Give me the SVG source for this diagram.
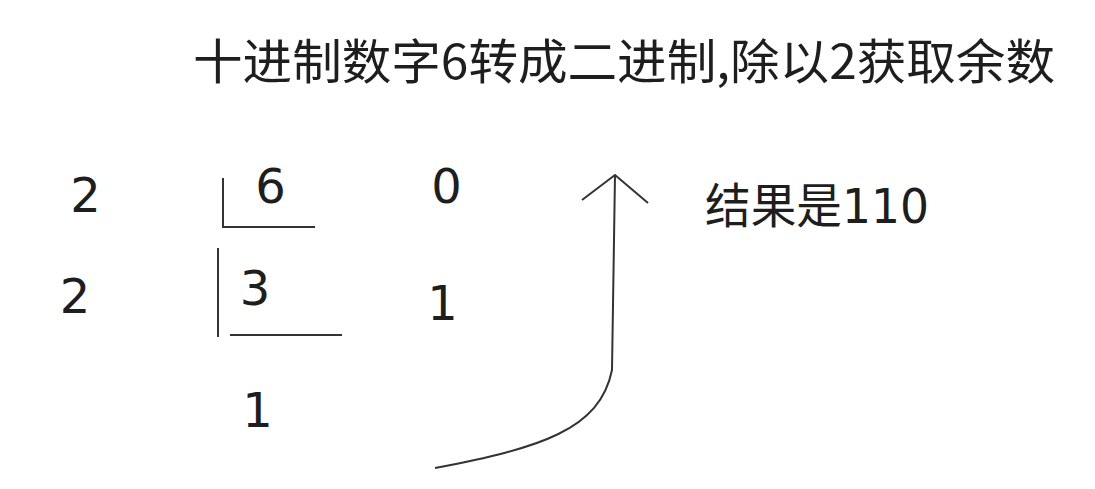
<svg xmlns="http://www.w3.org/2000/svg" width="1095" height="489" viewBox="0 0 1095 489">
<style>
.cjk{font-family:"Noto Sans CJK SC","Noto Sans",sans-serif;fill:#1e1e1e}
.d{font-family:"DejaVu Sans",sans-serif;font-size:48px;fill:#1e1e1e;text-anchor:middle}
.ln{stroke:#333;stroke-width:2;fill:none}
</style>
<rect width="1095" height="489" fill="#fff"/>
<g id="title"><text class="cjk" x="193" y="79" font-size="48" textLength="862" lengthAdjust="spacingAndGlyphs">十进制数字6转成二进制,除以2获取余数</text></g>
<g id="row1">
<text class="d" x="85.5" y="212">2</text>
<text class="d" x="270.5" y="203">6</text>
<text class="d" x="446.5" y="203">0</text>
<path class="ln" d="M223,178 V227 H315"/>
</g>
<g id="row2">
<text class="d" x="75" y="313">2</text>
<text class="d" x="255" y="305">3</text>
<text class="d" x="442.5" y="320">1</text>
<path class="ln" d="M218,248 V337 M230,335 H342"/>
</g>
<g id="row3"><text class="d" x="257.5" y="427">1</text></g>
<g id="result"><text class="cjk" x="705" y="223" font-size="48" textLength="224" lengthAdjust="spacingAndGlyphs">结果是<tspan font-family="DejaVu Sans">110</tspan></text></g>
<g id="connectors">
<path class="ln" d="M435,468 C540,448 600,430 612,370 L615,175"/>
<path class="ln" d="M582,200 L615,175 L648,203"/>
</g>
</svg>
